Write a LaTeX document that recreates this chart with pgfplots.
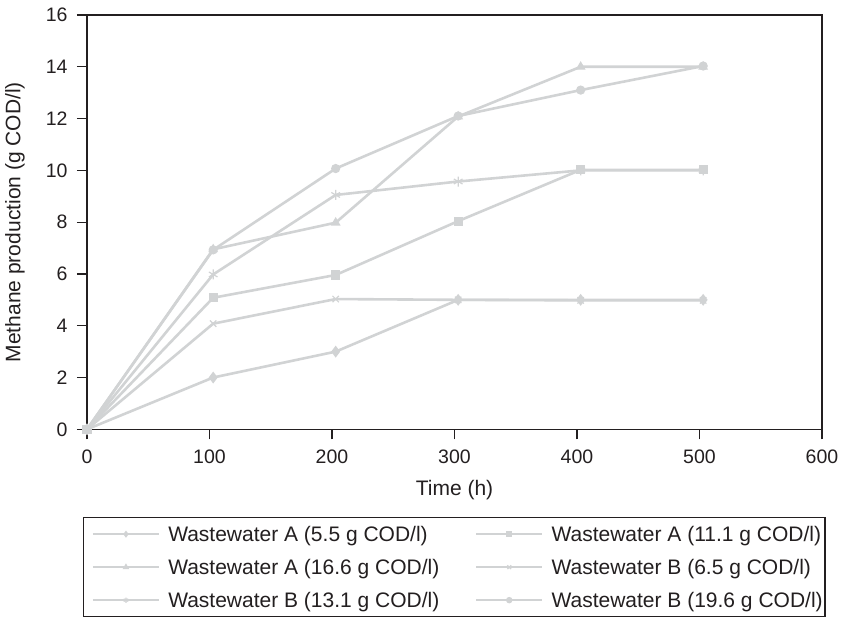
\documentclass[border=0pt]{standalone}
\usepackage{pgfplots}
\pgfplotsset{compat=1.18}
\usepackage{fontspec}
\setmainfont{Liberation Sans}
\definecolor{ln}{RGB}{209,211,212}
\definecolor{ax}{RGB}{35,31,32}
\newcommand{\lt}[2]{\makebox[#1][l]{#2}}
\begin{document}
\begin{tikzpicture}
\useasboundingbox (0pt,0pt) rectangle (841pt,-618pt);
\begin{axis}[
  at={(87pt,-429.3pt)}, anchor=south west,
  scale only axis, width=735pt, height=414.3pt,
  xmin=0, xmax=600, ymin=0, ymax=16,
  xtick={0,100,...,600}, ytick={0,2,...,16},
  tick pos=left, tick align=outside, major tick length=10pt,
  axis line style={ax, line width=1.3pt},
  every tick/.style={ax, line width=1.3pt},
  /pgf/number format/assume math mode=true,
  tick label style={font=\fontsize{19.5}{22}\selectfont, text=ax},
  xticklabel style={yshift=-7pt},
  yticklabel style={xshift=-6pt},
  xlabel={Time (h)}, ylabel={Methane production (g COD/l)},
  every axis x label/.style={at={(axis description cs:0.5,-0.1465)}, anchor=center, font=\fontsize{21}{24}\selectfont, text=ax},
  every axis y label/.style={at={(axis description cs:-0.098,0.5)}, rotate=90, anchor=center, font=\fontsize{21}{24}\selectfont, text=ax},
  legend columns=2,
  legend style={at={(axis description cs:-0.00585,-0.2117)}, anchor=north west,
    draw=ax, line width=1.3pt, inner xsep=8.3pt, inner ysep=0pt,
    nodes={inner sep=0pt, text height=24pt, text depth=9pt, text=ax}, font=\fontsize{21}{24}\selectfont,
    /tikz/every odd column/.append style={column sep=8pt},
    /tikz/every even column/.append style={column sep=6.7pt}},
  legend image code/.code={\draw[mark repeat=2,mark phase=2,mark size=2.6pt, line width=2.6pt] plot coordinates {(0pt,0pt)(33pt,0pt)(66pt,0pt)};},
]
\addplot[ln, line width=2.6pt, mark=diamond*, mark size=5pt, mark options={fill=ln, draw=ln, solid, line width=1.2pt}] coordinates {(0,0)(103,2)(203,3)(303,5)(403,5)(503,5)};
\addlegendentry{\lt{300pt}{Wastewater A (5.5 g COD/l)}}
\addplot[ln, line width=2.6pt, mark=square*, mark size=4pt, mark options={fill=ln, draw=ln, solid, line width=1.2pt}] coordinates {(0,0)(103,5.08)(203,5.96)(303,8.04)(403,10.02)(503,10.02)};
\addlegendentry{\lt{265pt}{Wastewater A (11.1 g COD/l)}}
\addplot[ln, line width=2.6pt, mark=triangle*, mark size=4.5pt, mark options={fill=ln, draw=ln, solid, line width=1.2pt}] coordinates {(0,0)(103,6.95)(203,7.98)(303,12.08)(403,14.0)(503,14.0)};
\addlegendentry{\lt{300pt}{Wastewater A (16.6 g COD/l)}}
\addplot[ln, line width=2.6pt, mark=x, mark size=4.5pt, mark options={fill=ln, draw=ln, solid, line width=1.2pt}] coordinates {(0,0)(103,4.08)(203,5.03)(303,5.0)(403,4.98)(503,4.98)};
\addlegendentry{\lt{265pt}{Wastewater B (6.5 g COD/l)}}
\addplot[ln, line width=2.6pt, mark=asterisk, mark size=5pt, mark options={fill=ln, draw=ln, solid, line width=1.2pt}] coordinates {(0,0)(103,5.98)(203,9.05)(303,9.57)(403,10.0)(503,10.0)};
\addlegendentry{\lt{300pt}{Wastewater B (13.1 g COD/l)}}
\addplot[ln, line width=2.6pt, mark=*, mark size=4pt, mark options={fill=ln, draw=ln, solid, line width=1.2pt}] coordinates {(0,0)(103,6.93)(203,10.07)(303,12.1)(403,13.1)(503,14.03)};
\addlegendentry{\lt{265pt}{Wastewater B (19.6 g COD/l)}}
\end{axis}
\end{tikzpicture}
\end{document}
